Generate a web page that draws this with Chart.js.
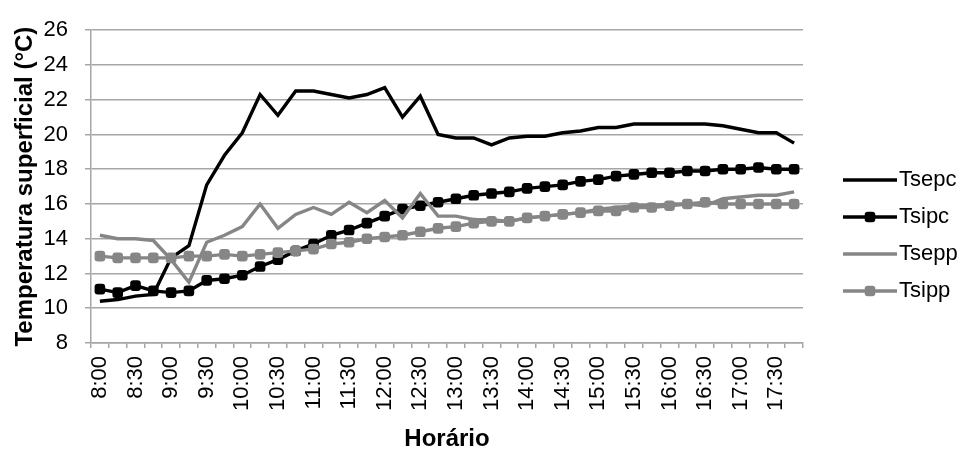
<!DOCTYPE html>
<html lang="pt">
<head>
<meta charset="utf-8">
<title>Temperatura superficial</title>
<script src="https://cdn.jsdelivr.net/npm/chart.js@4.4.1/dist/chart.umd.min.js"></script>
<style>
  html, body { margin: 0; padding: 0; background: #fff; }
  #wrap { width: 970px; height: 451px; }
</style>
</head>
<body>
<div id="wrap"><canvas id="grafico" width="970" height="451"></canvas></div>
<script>
// horarios a cada 15 min, so os de :00 e :30 aparecem no eixo
const horarios = ['8:00','8:15','8:30','8:45','9:00','9:15','9:30','9:45',
  '10:00','10:15','10:30','10:45','11:00','11:15','11:30','11:45',
  '12:00','12:15','12:30','12:45','13:00','13:15','13:30','13:45',
  '14:00','14:15','14:30','14:45','15:00','15:15','15:30','15:45',
  '16:00','16:15','16:30','16:45','17:00','17:15','17:30','17:45'];

const tsepc = [10.4, 10.5, 10.7, 10.8, 12.9, 13.6, 17.1, 18.8, 20.1, 22.3,
  21.1, 22.5, 22.5, 22.3, 22.1, 22.3, 22.7, 21.0, 22.2, 20.0,
  19.8, 19.8, 19.4, 19.8, 19.9, 19.9, 20.1, 20.2, 20.4, 20.4,
  20.6, 20.6, 20.6, 20.6, 20.6, 20.5, 20.3, 20.1, 20.1, 19.5];

const tsipc = [11.1, 10.9, 11.3, 11.0, 10.9, 11.0, 11.6, 11.7, 11.9, 12.4,
  12.8, 13.3, 13.7, 14.2, 14.5, 14.9, 15.3, 15.7, 15.9, 16.1,
  16.3, 16.5, 16.6, 16.7, 16.9, 17.0, 17.1, 17.3, 17.4, 17.6,
  17.7, 17.8, 17.8, 17.9, 17.9, 18.0, 18.0, 18.1, 18.0, 18.0];

const tsepp = [14.2, 14.0, 14.0, 13.9, 12.8, 11.5, 13.8, 14.2, 14.7, 16.0,
  14.6, 15.4, 15.8, 15.4, 16.1, 15.5, 16.2, 15.2, 16.6, 15.3,
  15.3, 15.1, 15.1, 15.0, 15.2, 15.3, 15.4, 15.5, 15.7, 15.8,
  15.9, 15.9, 16.0, 16.0, 15.9, 16.3, 16.4, 16.5, 16.5, 16.7];

const tsipp = [13.0, 12.9, 12.9, 12.9, 12.9, 13.0, 13.0, 13.1, 13.0, 13.1,
  13.2, 13.3, 13.4, 13.7, 13.8, 14.0, 14.1, 14.2, 14.4, 14.6,
  14.7, 14.9, 15.0, 15.0, 15.2, 15.3, 15.4, 15.5, 15.6, 15.6,
  15.8, 15.8, 15.9, 16.0, 16.1, 16.0, 16.0, 16.0, 16.0, 16.0];

const PRETO = '#000000';
const CINZA = '#868686';
const GRADE = '#a6a6a6';

Chart.defaults.font.family = '"Liberation Sans", Arial, sans-serif';
Chart.defaults.color = '#000';

// legenda desenhada a mao (linha + marcador + texto), a direita do grafico
const legenda = {
  id: 'legenda',
  afterDraw(chart) {
    const ctx = chart.ctx;
    const x0 = 843, x1 = 897;
    chart.data.datasets.forEach((ds, i) => {
      const y = 180 + i * 37;
      ctx.save();
      ctx.strokeStyle = ds.borderColor;
      ctx.fillStyle = ds.borderColor;
      ctx.lineWidth = ds.borderWidth;
      ctx.beginPath();
      ctx.moveTo(x0, y);
      ctx.lineTo(x1, y);
      ctx.stroke();
      if (ds.pointRadius > 0) {
        Chart.helpers.drawPoint(ctx, {pointStyle: ds.pointStyle, radius: ds.pointRadius, borderWidth: 0}, (x0 + x1) / 2, y);
      }
      ctx.fillStyle = '#000';
      ctx.font = '22px "Liberation Sans", Arial, sans-serif';
      ctx.textBaseline = 'middle';
      ctx.textAlign = 'left';
      ctx.fillText(ds.label, x1 + 2, y);
      ctx.restore();
    });
  }
};

function serie(nome, dados, cor, marcador, ordem) {
  return {
    label: nome,
    data: dados,
    borderColor: cor,
    backgroundColor: cor,
    borderWidth: 3.4,
    tension: 0,
    pointStyle: 'rectRounded',
    pointRadius: marcador ? 6.2 : 0,
    pointHoverRadius: marcador ? 6.2 : 0,
    pointBorderWidth: 0,
    pointBackgroundColor: cor,
    order: ordem
  };
}

new Chart(document.getElementById('grafico'), {
  type: 'line',
  data: {
    labels: horarios,
    datasets: [
      serie('Tsepc', tsepc, PRETO, false, 4),
      serie('Tsipc', tsipc, PRETO, true, 3),
      serie('Tsepp', tsepp, CINZA, false, 2),
      serie('Tsipp', tsipp, CINZA, true, 1)
    ]
  },
  options: {
    responsive: false,
    animation: false,
    devicePixelRatio: 1,
    layout: { padding: { top: 24, right: 167, left: 0, bottom: 0 } },
    plugins: {
      legend: { display: false },
      tooltip: { enabled: false }
    },
    scales: {
      x: {
        offset: true,
        grid: { display: true, drawOnChartArea: false, drawTicks: true, tickLength: 5, offset: true, color: GRADE, lineWidth: 1.5 },
        border: { display: true, color: GRADE, width: 1.5 },
        ticks: {
          autoSkip: false, maxRotation: 90, minRotation: 90, padding: 8,
          font: { size: 22 },
          callback: function(v, i) { return i % 2 === 0 ? this.getLabelForValue(v) : ''; }
        },
        title: { display: true, text: 'Horário', font: { size: 24, weight: 'bold', lineHeight: 1 }, padding: { top: 0, bottom: 0 } },
        afterFit: s => { s.height = 108; }
      },
      y: {
        min: 8, max: 26,
        ticks: { stepSize: 2, padding: 17, font: { size: 22 } },
        grid: { color: GRADE, lineWidth: 1.5, tickLength: 6 },
        border: { color: GRADE, width: 1.5 },
        title: { display: true, text: 'Temperatura superficial (°C)', font: { size: 24, weight: 'bold', lineHeight: 1 }, padding: { top: 13, bottom: 0 } },
        afterFit: s => { s.width = 91; }
      }
    }
  },
  plugins: [legenda]
});
</script>
</body>
</html>
